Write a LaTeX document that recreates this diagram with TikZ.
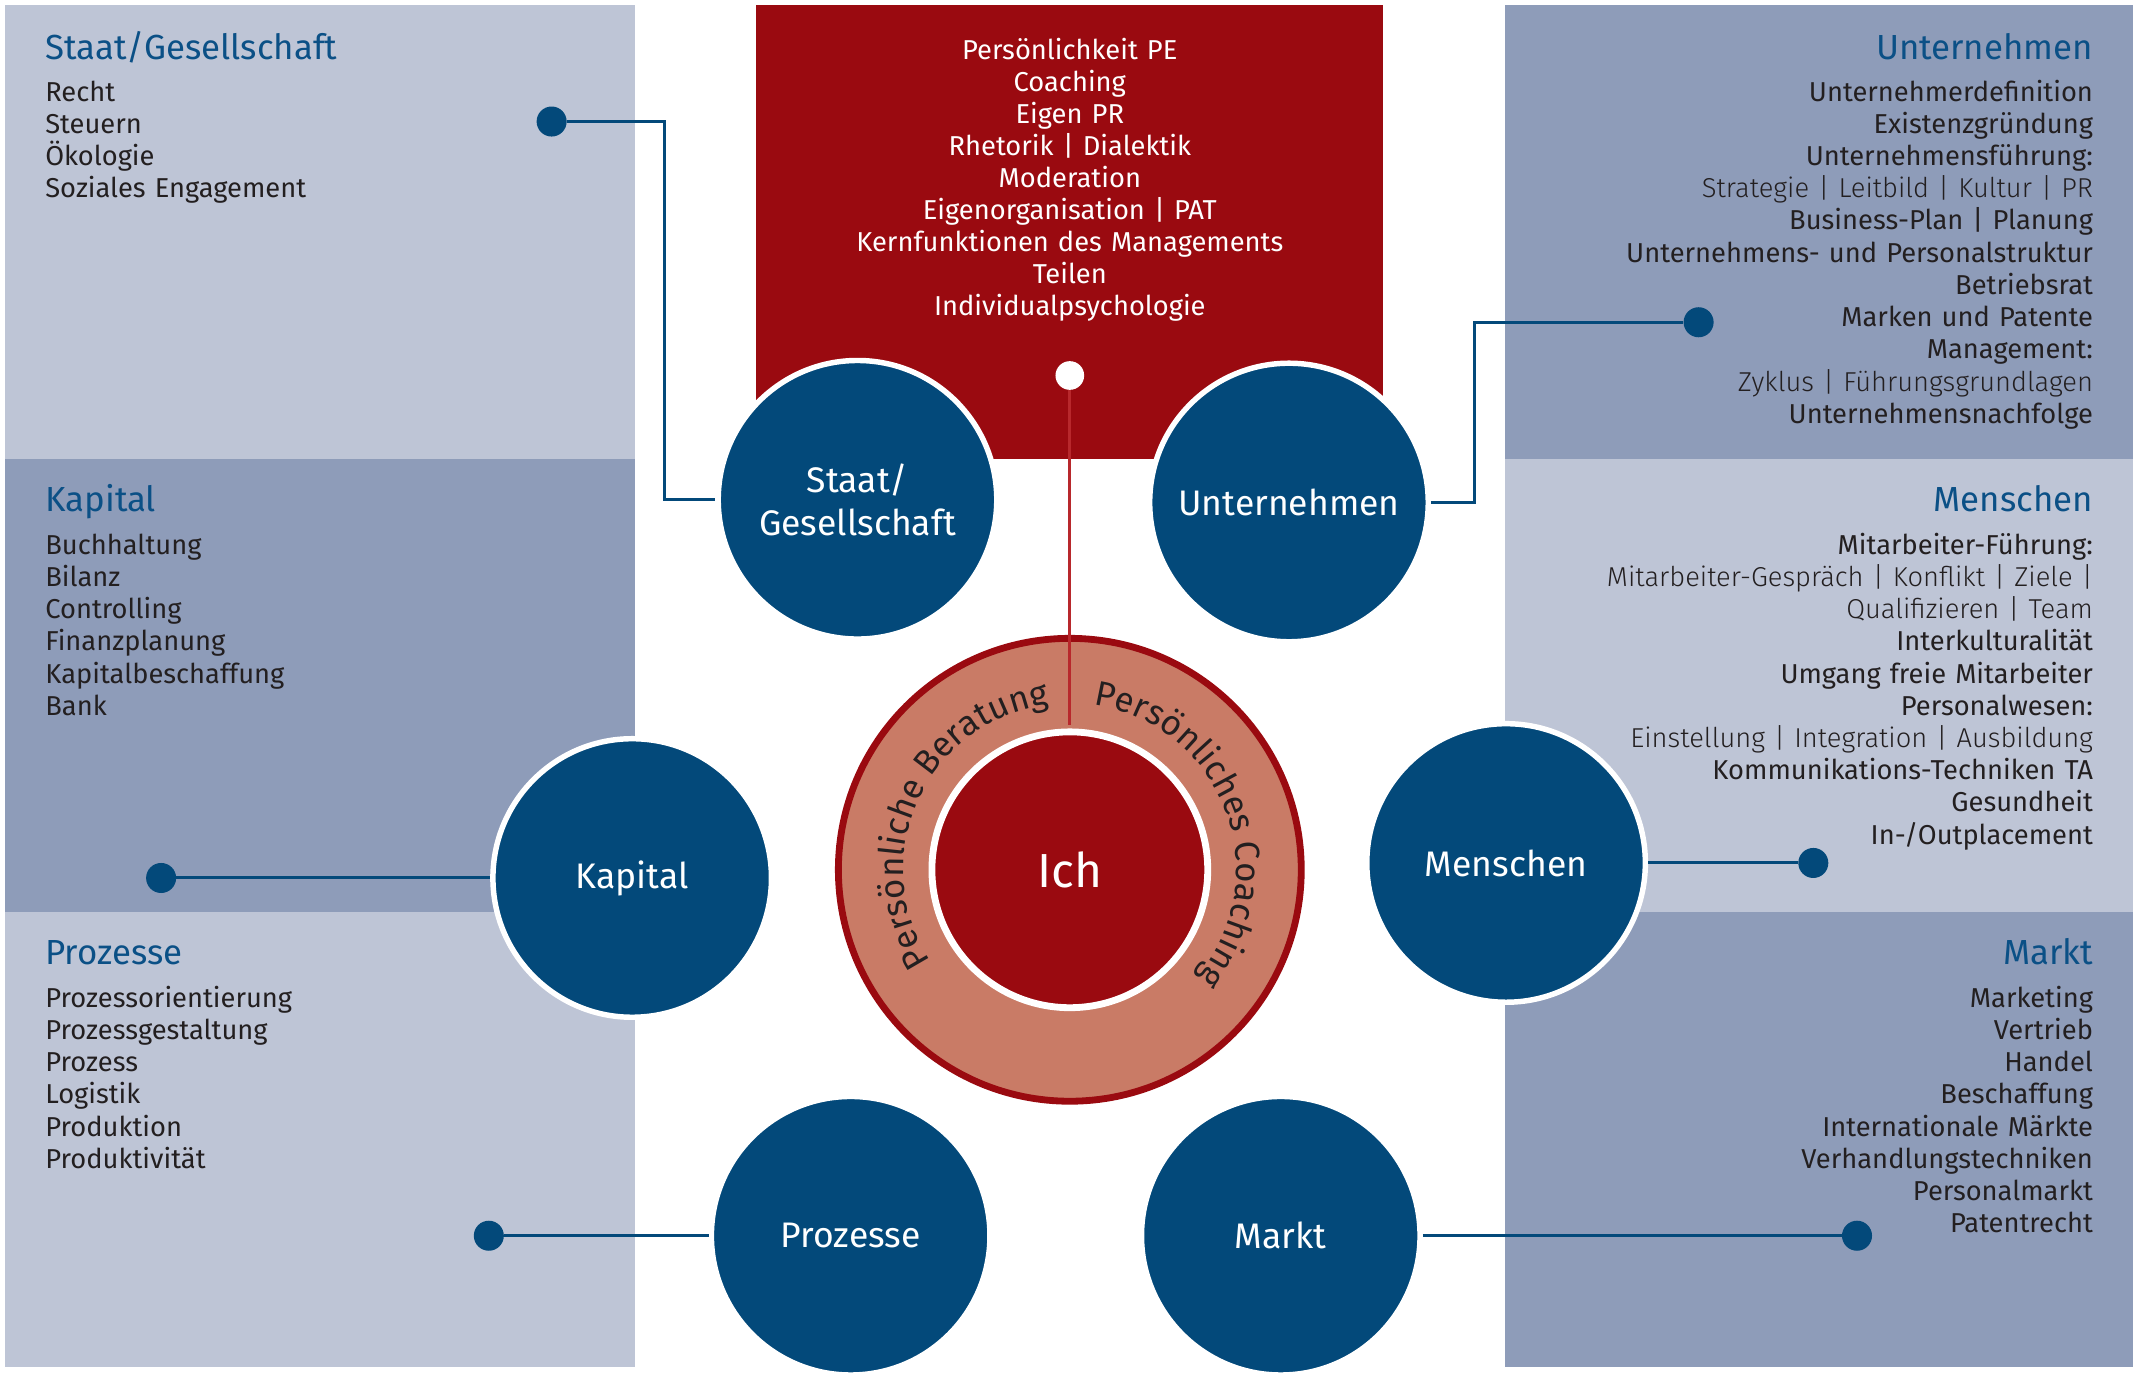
\documentclass[tikz,border=0pt]{standalone}
\usepackage{fontspec}
\setmainfont{Fira Sans}
\newfontfamily\lightfont{Fira Sans Light}
\usetikzlibrary{positioning,decorations.text}
\definecolor{panellight}{RGB}{190,197,214}
\definecolor{paneldark}{RGB}{142,156,185}
\definecolor{topicblue}{RGB}{3,73,122}
\definecolor{titleblue}{RGB}{11,80,134}
\definecolor{boxred}{RGB}{154,10,16}
\definecolor{stemred}{RGB}{184,40,44}
\definecolor{ringsalmon}{RGB}{201,123,102}
\definecolor{ink}{RGB}{35,31,32}

\begin{document}
\begin{tikzpicture}[x=1pt,y=1pt,
    topic/.style={circle,fill=topicblue,draw=white,line width=4pt,minimum size=204pt,inner sep=0pt,text=white,align=center,font=\fontsize{26}{31}\selectfont},
    dot/.style={circle,fill=topicblue,minimum size=22pt,inner sep=0pt},
    link/.style={draw=topicblue,line width=2.2pt},
    heading/.style={inner sep=0pt,text=titleblue,font=\fontsize{25.5}{31}\selectfont},
    items/.style={inner sep=0pt,text=ink,text width=440pt,font=\fontsize{20}{23.6}\selectfont}]
  \useasboundingbox (0,0) rectangle (1568,-1007);
  \fill[panellight] (4,-3.7) rectangle (465,-336);
  \fill[paneldark] (4,-336) rectangle (465,-668);
  \fill[panellight] (4,-668) rectangle (465,-1001);
  \fill[paneldark] (1102,-3.7) rectangle (1562,-336);
  \fill[panellight] (1102,-336) rectangle (1562,-668);
  \fill[paneldark] (1102,-668) rectangle (1562,-1001);
  \fill[boxred] (554,-3.7) rectangle (1013,-336);

  \node[heading,anchor=base west] (hStaat) at (33,-43.5) {Staat/Gesellschaft};
  \node[items,align=left,below=30.5pt of hStaat.base west,anchor=base west] (lStaat) {Recht\\Steuern\\Ökologie\\Soziales Engagement};
  \node[heading,anchor=base west] (hKapital) at (33,-374.8) {Kapital};
  \node[items,align=left,below=31pt of hKapital.base west,anchor=base west] (lKapital) {Buchhaltung\\Bilanz\\Controlling\\Finanzplanung\\Kapitalbeschaffung\\Bank};
  \node[heading,anchor=base west] (hProzesse) at (33,-706.7) {Prozesse};
  \node[items,align=left,below=31pt of hProzesse.base west,anchor=base west] (lProzesse) {Prozessorientierung\\Prozessgestaltung\\Prozess\\Logistik\\Produktion\\Produktivität};

  \node[heading,anchor=base east] (hUnt) at (1533,-43.5) {Unternehmen};
  \node[items,align=right,below=30.5pt of hUnt.base east,anchor=base east] (lUnt) {Unternehmerdefinition\\Existenzgründung\\Unternehmensführung:\\{\lightfont Strategie | Leitbild | Kultur | PR}\\Business-Plan | Planung\\Unternehmens- und Personalstruktur\\Betriebsrat\\Marken und Patente\\Management:\\{\lightfont Zyklus | Führungsgrundlagen}\\Unternehmensnachfolge};
  \node[heading,anchor=base east] (hMenschen) at (1533,-374.8) {Menschen};
  \node[items,align=right,below=31pt of hMenschen.base east,anchor=base east] (lMenschen) {Mitarbeiter-Führung:\\{\lightfont Mitarbeiter-Gespräch | Konflikt | Ziele |}\\{\lightfont Qualifizieren | Team}\\Interkulturalität\\Umgang freie Mitarbeiter\\Personalwesen:\\{\lightfont Einstellung | Integration | Ausbildung}\\Kommunikations-Techniken TA\\Gesundheit\\In-/Outplacement};
  \node[heading,anchor=base east] (hMarkt) at (1533,-706.7) {Markt};
  \node[items,align=right,below=31pt of hMarkt.base east,anchor=base east] (lMarkt) {Marketing\\Vertrieb\\Handel\\Beschaffung\\Internationale Märkte\\Verhandlungstechniken\\Personalmarkt\\Patentrecht};

  \node[items,text=white,align=center,anchor=base,font=\fontsize{20}{23.4}\selectfont] (peText) at (783.5,-43.5) {Persönlichkeit PE\\Coaching\\Eigen PR\\Rhetorik | Dialektik\\Moderation\\Eigenorganisation | PAT\\Kernfunktionen des Managements\\Teilen\\Individualpsychologie};
  \node[circle,fill=white,minimum size=21pt,inner sep=0pt] (peDot) at (783.5,-275) {};

  \node[topic] (staat) at (628,-366) {Staat/\\Gesellschaft};
  \node[topic] (unternehmen) at (944,-368) {Unternehmen};
  \node[topic] (kapital) at (463,-643) {Kapital};
  \node[topic] (menschen) at (1103,-632) {Menschen};
  \node[topic] (prozesse) at (623,-905) {Prozesse};
  \node[topic] (markt) at (938,-905) {Markt};

  \node[dot] (dStaat) at (404,-89) {};
  \node[dot] (dUnt) at (1244,-236) {};
  \node[dot] (dKapital) at (118,-643) {};
  \node[dot] (dMenschen) at (1328,-632) {};
  \node[dot] (dProzesse) at (358,-905) {};
  \node[dot] (dMarkt) at (1360,-905) {};
  \coordinate (kStaat) at (487,-89);
  \coordinate (kUnt) at (1080,-236);
  \draw[link] (dStaat) -- (kStaat) |- (staat);
  \draw[link] (unternehmen) -| (kUnt) -- (dUnt);
  \draw[link] (dKapital) -- (kapital);
  \draw[link] (menschen) -- (dMenschen);
  \draw[link] (dProzesse) -- (prozesse);
  \draw[link] (markt) -- (dMarkt);

  \node[circle,fill=ringsalmon,draw=boxred,line width=5pt,minimum size=339pt,inner sep=0pt] (ring) at (783.5,-637) {};
  \node[circle,fill=boxred,draw=white,line width=5pt,minimum size=202pt,text=white,font=\fontsize{35}{40}\selectfont] (ich) at (ring.center) {Ich};
  \draw[stemred,line width=2pt,shorten >=2.5pt] (peDot) -- (ich);
  \path[decorate,decoration={text along path,text align=right,text={|\fontsize{25.5}{28}\selectfont\color{ink}|Persönliche Beratung}}]
    ([shift={(215:122)}]ring.center) arc[start angle=215,end angle=97,radius=122];
  \path[decorate,decoration={text along path,text align=left,text={|\fontsize{25.5}{28}\selectfont\color{ink}|Persönliches Coaching}}]
    ([shift={(82:122)}]ring.center) arc[start angle=82,end angle=-48,radius=122];
\end{tikzpicture}
\end{document}
